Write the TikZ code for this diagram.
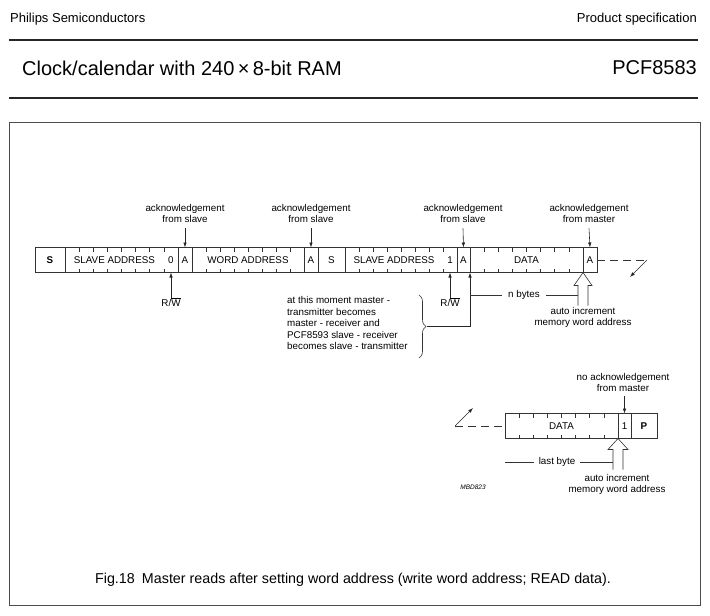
\documentclass[tikz,border=0pt]{standalone}
\usepackage{fontspec}
\setmainfont{Liberation Sans}
\usetikzlibrary{arrows.meta,calc,decorations.pathreplacing}

\newcommand{\rwbar}{R/\vbox{\hrule height0.8pt\kern1.1pt\hbox{W}}}

\tikzset{
	cell/.style={draw=black!80, line width=0.6pt, minimum height=25pt, inner sep=0pt, outer sep=0pt, anchor=west, font=\fontsize{9.8}{11}\selectfont},
	lbl/.style={font=\fontsize{9.8}{11}\selectfont, align=center, inner sep=1pt},
	tick/.style={draw=black!80, line width=0.6pt},
	ack/.style={draw=black!85, line width=0.6pt, -{Latex[length=5pt,width=3.5pt]}},
	hollow/.style={draw=black!80, line width=0.6pt},
	cont/.style={draw=black!80, line width=0.6pt, dash pattern=on 8pt off 5pt},
}

\begin{document}
\begin{tikzpicture}[x=1pt, y=-1pt]
	\useasboundingbox (0,0) rectangle (710,616);
	% Cabecera
	\node[anchor=west, inner sep=0pt, font=\fontsize{13}{15}\selectfont] (maker) at (10,19) {Philips Semiconductors};
	\node[anchor=east, inner sep=0pt, font=\fontsize{13}{15}\selectfont] (spec) at (697,19) {Product specification};
	\draw[line width=1.6pt, black!85] (9,40) -- (698,40);
	\node[anchor=west, inner sep=0pt, font=\fontsize{20}{23}\selectfont] (title) at (22,68) {Clock/calendar with 240\,×\,8-bit RAM};
	\node[anchor=east, inner sep=0pt, font=\fontsize{20}{23}\selectfont] (part) at (697,68) {PCF8583};
	\draw[line width=1.6pt, black!85] (9,98) -- (698,98);
	\draw[black!70, line width=0.9pt] (9,122) rectangle (700,605);
	% Primera trama
	\node[cell, minimum width=30pt] (s1) at (35,260) {\textbf{S}};
	\node[cell, minimum width=113pt] (sadr1) at (s1.east) {};
	\node[cell, minimum width=14pt] (a1) at (sadr1.east) {A};
	\node[cell, minimum width=112pt] (wadr) at (a1.east) {WORD ADDRESS};
	\node[cell, minimum width=14pt] (a2) at (wadr.east) {A};
	\node[cell, minimum width=27pt] (s2) at (a2.east) {S};
	\node[cell, minimum width=112pt] (sadr2) at (s2.east) {};
	\node[cell, minimum width=13pt] (a3) at (sadr2.east) {A};
	\node[cell, minimum width=113pt] (data1) at (a3.east) {DATA};
	\node[cell, minimum width=14pt] (a4) at (data1.east) {A};
	\node[lbl] (sadr1txt) at ($(sadr1.west)!7/16!(sadr1.east)$) {SLAVE ADDRESS};
	\node[lbl] (bit0) at ($(sadr1.west)!15/16!(sadr1.east)$) {0};
	\node[lbl] (sadr2txt) at ($(sadr2.west)!7/16!(sadr2.east)$) {SLAVE ADDRESS};
	\node[lbl] (bit1) at ($(sadr2.west)!15/16!(sadr2.east)$) {1};
	% Segunda trama
	\node[cell, minimum width=113pt] (data2) at (505,426) {DATA};
	\node[cell, minimum width=13pt] (nack) at (data2.east) {1};
	\node[cell, minimum width=26pt] (p) at (nack.east) {\textbf{P}};
	% Marcas de bits
	\foreach \f in {sadr1,wadr,sadr2,data1,data2}
		\foreach \i in {1,...,7} {
			\draw[tick] ($(\f.north west)!\i/8!(\f.north east)$) -- ++(0,4);
			\draw[tick] ($(\f.south west)!\i/8!(\f.south east)$) -- ++(0,-4);
		}
	% Reconocimientos
	\node[lbl] (ack1) at (185,213) {acknowledgement\\from slave};
	\node[lbl] (ack2) at (311,213) {acknowledgement\\from slave};
	\node[lbl] (ack3) at (463,213) {acknowledgement\\from slave};
	\node[lbl] (ack4) at (589,213) {acknowledgement\\from master};
	\node[lbl] (ack5) at (623,382) {no acknowledgement\\from master};
	\draw[ack] ([yshift=-5pt]ack1.south) -- (a1.north);
	\draw[ack] ([yshift=-5pt]ack2.south) -- (a2.north);
	\draw[ack] ([yshift=-5pt]ack3.south) -- (a3.north);
	\draw[ack] ([yshift=-5pt]ack4.south) -- (a4.north);
	\draw[ack] ([yshift=-4pt]ack5.south -| nack.north) -- (nack.north);
	% Bit R/W
	\node[lbl] (rw1) at (171,302) {\rwbar};
	\node[lbl] (rw2) at (450,302) {\rwbar};
	\draw[ack] ([yshift=-2pt]rw1.north) -- (rw1.north |- sadr1.south);
	\draw[ack] ([yshift=-2pt]rw2.north) -- (rw2.north |- sadr2.south);
	% Cambio de sentido
	\node[lbl, align=left, anchor=west, font=\fontsize{9.8}{11.5}\selectfont] (turn) at (286,323) {at this moment master -\\transmitter becomes\\master - receiver and\\PCF8593 slave - receiver\\becomes slave - transmitter};
	\draw[black!80, line width=0.6pt, decorate, decoration={brace, amplitude=7pt}] (419,295) -- (419,358);
	\coordinate (brtip) at (427,326.5);
	\draw[ack] (brtip) -| (a3.south east);
	% n bytes
	\node[lbl, inner xsep=6pt] (nbytes) at (524,295) {n bytes};
	\draw[tick] (a3.south east |- nbytes.west) -- (nbytes.west);
	\draw[tick] (nbytes.east) -- ([xshift=-5pt]nbytes.east -| data1.south east);
	\draw[hollow] (data1.south east) -- +(-9,13) -- +(-5,13) -- +(-5,33) (data1.south east) -- +(9,13) -- +(5,13) -- +(5,33);
	\node[lbl] (inc1) at (583,317) {auto increment\\memory word address};
	% last byte
	\node[lbl, inner xsep=5pt] (lastb) at (557,462) {last byte};
	\draw[tick] (data2.south west |- lastb.west) -- (lastb.west);
	\draw[tick] (lastb.east) -- ([xshift=-5pt]lastb.east -| data2.south east);
	\draw[hollow] (data2.south east) -- +(-10,11) -- +(-5,11) -- +(-5,31) (data2.south east) -- +(10,11) -- +(5,11) -- +(5,31);
	\node[lbl] (inc2) at (617,484) {auto increment\\memory word address};
	% Continuacion
	\coordinate (cont1) at (647,260);
	\coordinate (cont2) at (455,426);
	\draw[cont] (a4.east) -- (cont1);
	\draw[ack] (cont1) -- ++(-17,17);
	\draw[cont] (cont2) -- (data2.west);
	\draw[ack] (cont2) -- ++(18,-18);
	\node[lbl, font=\itshape\fontsize{6.5}{7}\selectfont] (code) at (473,487) {MBD823};
	% Pie
	\node[font=\fontsize{14.3}{16}\selectfont] (caption) at (353,580) {Fig.18\enspace Master reads after setting word address (write word address; READ data).};
\end{tikzpicture}
\end{document}
